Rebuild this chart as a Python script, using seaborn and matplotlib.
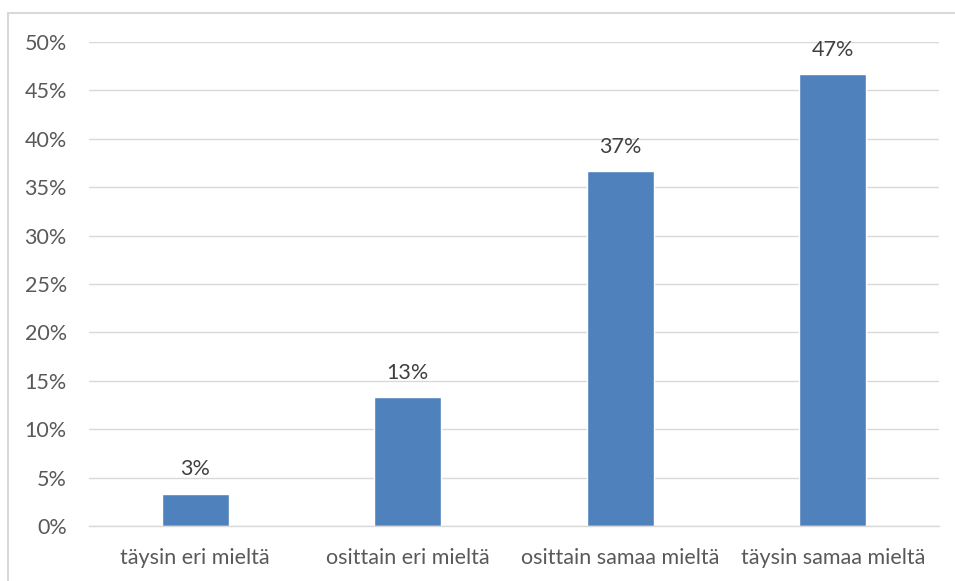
import matplotlib
matplotlib.use("Agg")
import matplotlib.pyplot as plt
import seaborn as sns
import pandas as pd
from matplotlib.ticker import PercentFormatter, MultipleLocator

categories = ["täysin eri mieltä", "osittain eri mieltä", "osittain samaa mieltä", "täysin samaa mieltä"]
values = [1/30, 4/30, 11/30, 14/30]
labels = ["3%", "13%", "37%", "47%"]

sns.set_theme(style="white")
plt.rcParams['font.family'] = ['Lato', 'DejaVu Sans']

W, H = 955, 581
fig = plt.figure(figsize=(W/100, H/100), dpi=100)
left, right, top, bottom = 89, 939, 42, 526
ax = fig.add_axes([left/W, 1-bottom/H, (right-left)/W, (bottom-top)/H])

df = pd.DataFrame({"cat": categories, "val": values})
sns.barplot(data=df, x="cat", y="val", color="#4F81BD", saturation=1, width=0.315, ax=ax)

fs = 15.5
ax.set_ylim(0, 0.5)
ax.yaxis.set_major_locator(MultipleLocator(0.05))
ax.yaxis.set_major_formatter(PercentFormatter(1.0, decimals=0))
ax.grid(axis='y', color='#D9D9D9', linewidth=1.0)
ax.set_axisbelow(True)
for s in ['top', 'right', 'left']:
    ax.spines[s].set_visible(False)
ax.spines['bottom'].set_color('#D9D9D9')
ax.spines['bottom'].set_linewidth(1.0)
ax.set_xlabel("")
ax.set_ylabel("")
ax.tick_params(axis='both', length=0, labelsize=fs, colors='#595959')
ax.tick_params(axis='y', pad=16)
ax.tick_params(axis='x', pad=16)

for p, lab in zip(ax.patches, labels):
    ax.annotate(lab, (p.get_x() + p.get_width()/2, p.get_height()),
                xytext=(0, 17.5), textcoords='offset points',
                ha='center', va='center', fontsize=fs, color='#404040')

from matplotlib.patches import Rectangle
fig.patches.append(Rectangle((8/W, -0.1), 1.2, 1 - 13/H + 0.1, transform=fig.transFigure,
                             fill=False, edgecolor='#D9D9D9', linewidth=1.5))

fig.savefig("out.png", dpi=100)
